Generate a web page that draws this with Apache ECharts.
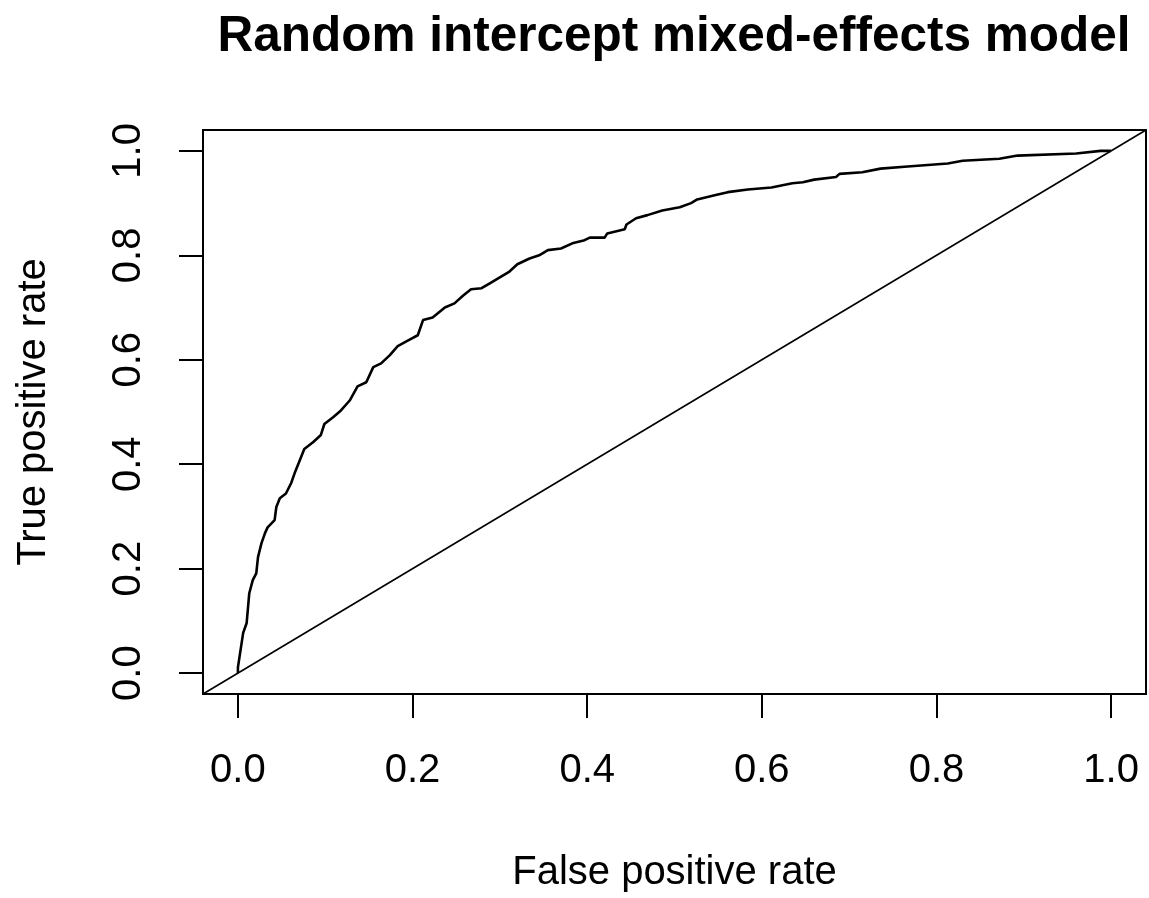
<!DOCTYPE html>
<html>
<head>
<meta charset="utf-8">
<script src="https://cdn.jsdelivr.net/npm/echarts@6/dist/echarts.min.js"></script>
<style>
  html, body { margin: 0; padding: 0; background: #fff; }
  #chart { width: 1149px; height: 898px; }
</style>
</head>
<body>
<div id="chart"></div>
<script>
// ---- Data ----
var fpr = [0, 0.000, 0.003, 0.006, 0.010, 0.013, 0.017, 0.021, 0.023, 0.027, 0.031, 0.034, 0.042, 0.044, 0.048,
  0.055, 0.061, 0.065, 0.071, 0.076, 0.086, 0.095, 0.099, 0.109, 0.118, 0.128, 0.137, 0.147, 0.155, 0.164,
  0.174, 0.183, 0.195, 0.206, 0.212, 0.223, 0.237, 0.248, 0.258, 0.267, 0.279, 0.288, 0.298, 0.311, 0.320,
  0.334, 0.345, 0.355, 0.370, 0.383, 0.397, 0.403, 0.420, 0.423, 0.443, 0.445, 0.456, 0.469, 0.486, 0.506,
  0.519, 0.526, 0.546, 0.561, 0.584, 0.611, 0.635, 0.647, 0.660, 0.685, 0.689, 0.715, 0.736, 0.767, 0.813,
  0.830, 0.872, 0.893, 0.960, 0.988, 1];
var tpr = [0, 0.011, 0.044, 0.077, 0.096, 0.153, 0.178, 0.191, 0.222, 0.249, 0.268, 0.279, 0.293, 0.318, 0.335,
  0.344, 0.364, 0.383, 0.408, 0.429, 0.442, 0.456, 0.477, 0.490, 0.503, 0.522, 0.549, 0.557, 0.586, 0.593,
  0.609, 0.626, 0.637, 0.647, 0.676, 0.681, 0.700, 0.708, 0.723, 0.735, 0.737, 0.746, 0.756, 0.769, 0.783,
  0.794, 0.800, 0.810, 0.813, 0.823, 0.829, 0.834, 0.834, 0.842, 0.850, 0.859, 0.871, 0.877, 0.886, 0.892,
  0.900, 0.907, 0.915, 0.921, 0.926, 0.930, 0.938, 0.940, 0.945, 0.950, 0.956, 0.959, 0.966, 0.970, 0.976,
  0.981, 0.985, 0.991, 0.995, 1.000, 1];
var refX = [-0.04, 1.04];          // y = x reference line (abline)
var refY = [-0.04, 1.04];
var tickValues = [0, 0.2, 0.4, 0.6, 0.8, 1.0];
var titleText = 'Random intercept mixed-effects model';
var xName = 'False positive rate';
var yName = 'True positive rate';

var rocData = fpr.map(function (x, i) { return [x, tpr[i]]; });
var refData = refX.map(function (x, i) { return [x, refY[i]]; });

var FONT = '"Liberation Sans", Arial, sans-serif';
function axisCommon(name, gap, rotateLabel, margin) {
  return {
    type: 'value',
    min: -0.04,
    max: 1.04,
    name: name,
    nameLocation: 'middle',
    nameGap: gap,
    nameTextStyle: { fontFamily: FONT, fontSize: 40, color: '#000' },
    axisLine: { show: false, onZero: false },
    splitLine: { show: false },
    axisTick: {
      show: true, inside: false, length: 24,
      customValues: tickValues,
      lineStyle: { color: '#000', width: 2 }
    },
    axisLabel: {
      show: true, margin: margin, rotate: rotateLabel,
      customValues: tickValues,
      fontFamily: FONT, fontSize: 40, color: '#000',
      formatter: function (v) { return Number(v).toFixed(1); }
    }
  };
}

var chart = echarts.init(document.getElementById('chart'), null, { renderer: 'canvas' });
chart.setOption({
  animation: false,
  backgroundColor: '#fff',
  title: {
    text: titleText,
    left: 669,
    textAlign: 'center',
    top: 7,
    textStyle: { fontFamily: FONT, fontSize: 49.5, fontWeight: 'bold', color: '#000' }
  },
  grid: {
    left: 203, right: 3, top: 130, bottom: 203,
    show: true, borderColor: '#000', borderWidth: 2, backgroundColor: 'transparent'
  },
  xAxis: axisCommon(xName, 159, 0, 57),
  yAxis: axisCommon(yName, 149, 90, 54),
  series: [
    {
      type: 'line', data: refData, showSymbol: false, symbol: 'none',
      lineStyle: { color: '#000', width: 1.6 }, clip: true, silent: true
    },
    {
      type: 'line', data: rocData, showSymbol: false, symbol: 'none',
      lineStyle: { color: '#000', width: 2.6 }, clip: true, silent: true
    }
  ]
});
</script>
</body>
</html>
